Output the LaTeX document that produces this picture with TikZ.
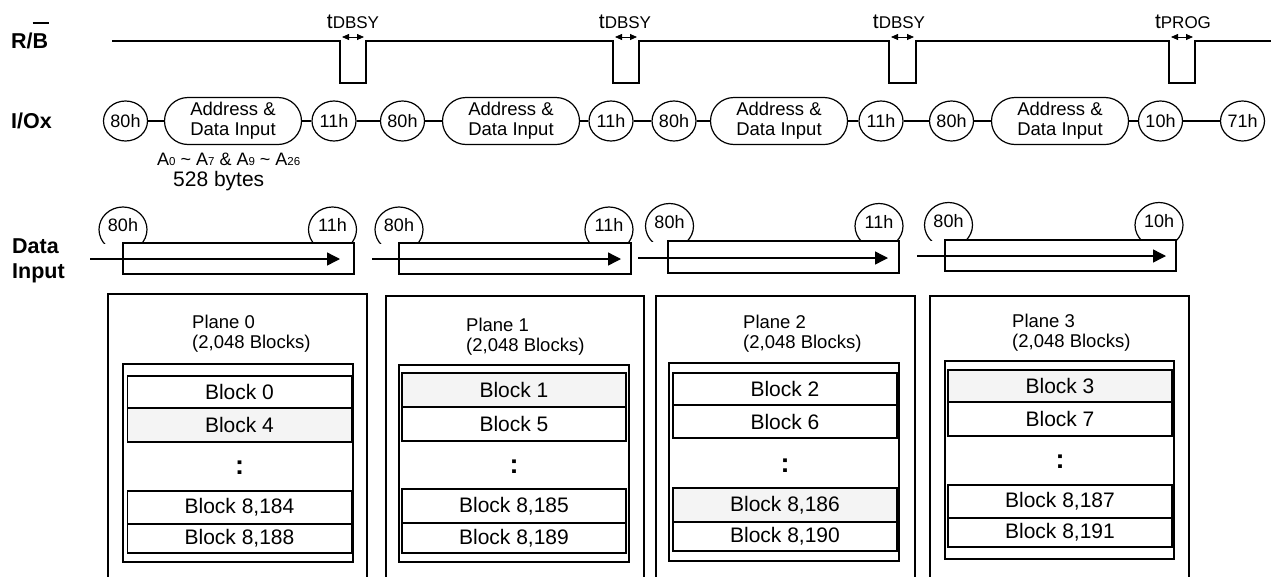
\documentclass[tikz,border=0pt]{standalone}
\usepackage{fontspec}
\setmainfont{Liberation Sans}
\usetikzlibrary{shapes.geometric,shapes.misc,arrows.meta}
\definecolor{shade}{RGB}{244,244,244}
\newcommand{\fsz}[1]{\fontsize{#1}{#1}\selectfont}
\newcommand{\lowidx}[1]{{\fontsize{11.5}{12}\selectfont #1}}
\newcommand{\dtxt}[1]{\raisebox{-2pt}[0pt][0pt]{#1}}
\tikzset{
  wave/.style={line width=1.4pt},
  shp/.style={draw, line width=1.2pt},
  ioell/.style={shp, ellipse, minimum width=44pt, minimum height=40pt, inner sep=0pt, font=\fontsize{18}{20}\selectfont},
  addr/.style={shp, rounded rectangle, minimum width=137pt, minimum height=47pt, inner sep=0pt, align=center, font=\fontsize{18.5}{20}\selectfont},
  dell/.style={shp, ellipse, minimum width=48pt, minimum height=45pt, inner sep=0pt, font=\fontsize{18}{20}\selectfont},
  lbl/.style={font=\fontsize{21.5}{25}\selectfont\bfseries, inner sep=0pt, anchor=base west, align=left},
  tlab/.style={inner sep=0pt, anchor=base},
  tarr/.style={line width=0.8pt, {Triangle[length=7pt,width=6pt]}-{Triangle[length=7pt,width=6pt]}},
  darr/.style={line width=1.4pt, -{Triangle[length=13pt,width=13pt]}},
  ptxt/.style={font=\fontsize{18.5}{20}\selectfont, inner sep=0pt, anchor=base west, align=left},
  blk/.style={shp, line width=1.5pt, minimum width=224pt, inner sep=0pt, font=\fontsize{21}{24}\selectfont},
  dots/.style={inner sep=0pt, font=\fontsize{27}{27}\selectfont\bfseries},
  small/.style={inner sep=0pt, anchor=base west},
}
\begin{document}
\begin{tikzpicture}[x=1pt,y=-1pt]
\useasboundingbox (0,0) rectangle (1271,576);
\clip (0,0) rectangle (1271,576);
\fill[white] (0,0) rectangle (1271,576);

% ---------- R/B waveform ----------
\node[lbl] (rb) at (11,48) {R/B};
\draw[line width=2.5pt] (32.5,23) -- (48.5,23);
\draw[wave] (112,41) -- (340,41) -- (340,83) -- (366,83) -- (366,41)
  -- (613,41) -- (613,83) -- (639,83) -- (639,41)
  -- (889,41) -- (889,83) -- (916,83) -- (916,41)
  -- (1169,41) -- (1169,83) -- (1195,83) -- (1195,41) -- (1271,41);
\node[tlab] (t1) at (353,28) {\fsz{21}t\fsz{17}DBSY};
\node[tlab] (t2) at (625,28) {\fsz{21}t\fsz{17}DBSY};
\node[tlab] (t3) at (899,28) {\fsz{21}t\fsz{17}DBSY};
\node[tlab] (t4) at (1183,28) {\fsz{21}t\fsz{17}PROG};
\coordinate (p1a) at (342,37); \coordinate (p1b) at (364,37);
\coordinate (p2a) at (615,37); \coordinate (p2b) at (637,37);
\coordinate (p3a) at (891,37); \coordinate (p3b) at (914,37);
\coordinate (p4a) at (1171,37); \coordinate (p4b) at (1193,37);
\draw[tarr] (p1a) -- (p1b);
\draw[tarr] (p2a) -- (p2b);
\draw[tarr] (p3a) -- (p3b);
\draw[tarr] (p4a) -- (p4b);

% ---------- I/Ox ----------
\node[lbl] (io) at (11,128) {I/Ox};
\node[ioell] (i1) at (125.5,121) {80h};
\node[addr]  (i2) at (233,121) {Address \&\\Data Input};
\node[ioell] (i3) at (334,121) {11h};
\node[ioell] (i4) at (402.5,121) {80h};
\node[addr]  (i5) at (511,121) {Address \&\\Data Input};
\node[ioell] (i6) at (611,121) {11h};
\node[ioell] (i7) at (674,121) {80h};
\node[addr]  (i8) at (779,121) {Address \&\\Data Input};
\node[ioell] (i9) at (881,121) {11h};
\node[ioell] (i10) at (951.5,121) {80h};
\node[addr]  (i11) at (1060,121) {Address \&\\Data Input};
\node[ioell] (i12) at (1160.5,121) {10h};
\node[ioell] (i13) at (1242.5,121) {71h};
\foreach \a/\b in {i1/i2,i2/i3,i3/i4,i4/i5,i5/i6,i6/i7,i7/i8,i8/i9,i9/i10,i10/i11,i11/i12,i12/i13}
  \draw[shp] (\a.east) -- (\b.west);
\node[small, font=\fsz{18}] (addrs) at (157,165) {A\lowidx{0} \textasciitilde{} A\lowidx{7} \& A\lowidx{9} \textasciitilde{} A\lowidx{26}};
\node[small, font=\fsz{21}] (bytes) at (173,186) {528 bytes};

% ---------- Data Input ----------
\node[lbl] (di) at (12,278) {Data\\Input};
\begin{scope}
  \clip (0,0) rectangle (1271,243);
  \node[dell] (d1) at (123,229.5) {\dtxt{80h}};
  \node[dell] (d2) at (332.5,229.5) {\dtxt{11h}};
  \node[dell] (d3) at (399,229.5) {\dtxt{80h}};
  \node[dell] (d4) at (609,229.5) {\dtxt{11h}};
\end{scope}
\begin{scope}
  \clip (0,0) rectangle (1271,241);
  \node[dell] (d5) at (669.5,226) {\dtxt{80h}};
  \node[dell] (d6) at (879,226) {\dtxt{11h}};
\end{scope}
\begin{scope}
  \clip (0,0) rectangle (1271,240);
  \node[dell] (d7) at (948.5,225) {\dtxt{80h}};
  \node[dell] (d8) at (1159,225) {\dtxt{10h}};
\end{scope}
\draw[shp] (123,243) rectangle (354,274);
\draw[shp] (399,243) rectangle (631,274);
\draw[shp] (668,241) rectangle (899,273);
\draw[shp] (945,240) rectangle (1176,271);
\coordinate (a1s) at (90,259);  \coordinate (a1e) at (340,259);
\coordinate (a2s) at (372,259); \coordinate (a2e) at (621,259);
\coordinate (a3s) at (638,258); \coordinate (a3e) at (888,258);
\coordinate (a4s) at (917,256); \coordinate (a4e) at (1166,256);
\draw[darr] (a1s) -- (a1e);
\draw[darr] (a2s) -- (a2e);
\draw[darr] (a3s) -- (a3e);
\draw[darr] (a4s) -- (a4e);

% ---------- Planes ----------
% Plane 0
\draw[shp] (108,600) -- (108,294) -- (367,294) -- (367,600);
\node[ptxt] (pl0) at (192,348) {Plane 0\\(2,048 Blocks)};
\draw[shp] (123,364) rectangle (353,562);
\node[blk, fill=white, minimum height=32pt] (b0) at (239.5,392) {Block 0};
\node[blk, fill=shade, minimum height=34pt] (b4) at (239.5,425) {Block 4};
\node[dots] (dt0) at (239.5,468) {:};
\node[blk, fill=white, minimum height=33pt] (b8184) at (239.5,507.5) {Block 8,184};
\node[blk, fill=white, minimum height=29pt] (b8188) at (239.5,538.5) {Block 8,188};
% Plane 1
\draw[shp] (386,600) -- (386,296) -- (644,296) -- (644,600);
\node[ptxt] (pl1) at (466,351) {Plane 1\\(2,048 Blocks)};
\draw[shp] (399,365) rectangle (629,562);
\node[blk, fill=shade, minimum height=34pt] (b1) at (514,390) {Block 1};
\node[blk, fill=white, minimum height=34pt] (b5) at (514,424) {Block 5};
\node[dots] (dt1) at (514,467) {:};
\node[blk, fill=white, minimum height=34pt] (b8185) at (514,506) {Block 8,185};
\node[blk, fill=white, minimum height=30pt] (b8189) at (514,538) {Block 8,189};
% Plane 2
\draw[shp] (656,600) -- (656,296) -- (915,296) -- (915,600);
\node[ptxt] (pl2) at (743,348) {Plane 2\\(2,048 Blocks)};
\draw[shp] (669,363) rectangle (899,561);
\node[blk, fill=white, minimum height=32pt] (b2) at (785,389) {Block 2};
\node[blk, fill=white, minimum height=33pt] (b6) at (785,421.5) {Block 6};
\node[dots] (dt2) at (785,466) {:};
\node[blk, fill=shade, minimum height=34pt] (b8186) at (785,505) {Block 8,186};
\node[blk, fill=white, minimum height=29pt] (b8190) at (785,536.5) {Block 8,190};
% Plane 3
\draw[shp] (930,600) -- (930,296) -- (1189,296) -- (1189,600);
\node[ptxt] (pl3) at (1012,347) {Plane 3\\(2,048 Blocks)};
\draw[shp] (945,361) rectangle (1174,559);
\node[blk, fill=shade, minimum height=32pt] (b3) at (1060,386) {Block 3};
\node[blk, fill=white, minimum height=34pt] (b7) at (1060,419) {Block 7};
\node[dots] (dt3) at (1060,462) {:};
\node[blk, fill=white, minimum height=33pt] (b8187) at (1060,501.5) {Block 8,187};
\node[blk, fill=white, minimum height=29pt] (b8191) at (1060,532.5) {Block 8,191};
\end{tikzpicture}
\end{document}
